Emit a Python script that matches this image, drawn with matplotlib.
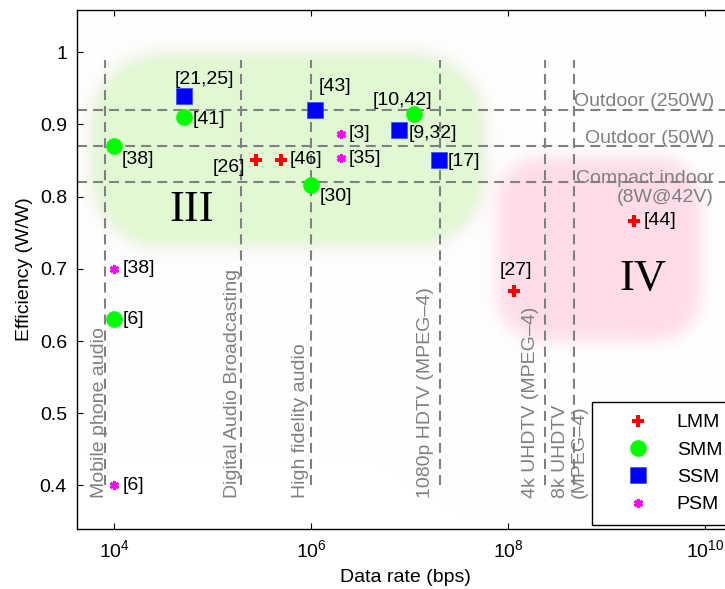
import numpy as np
import matplotlib
matplotlib.use('Agg')
import matplotlib.pyplot as plt
from matplotlib.ticker import FixedLocator, FuncFormatter, NullLocator

plt.rcParams['font.family'] = ['Liberation Sans', 'DejaVu Sans']
plt.rcParams['mathtext.default'] = 'regular'
plt.rcParams['font.size'] = 14

# ---------------- data ----------------
lmm_x = [2.73e5, 4.96e5, 1.15e8, 1.88e9]
lmm_y = [0.851, 0.851, 0.670, 0.767]
lmm_refs = ['[26]', '[46]', '[27]', '[44]']

smm_x = [5.1e4, 1.0e4, 1.0e6, 1.11e7, 1.0e4]
smm_y = [0.910, 0.870, 0.816, 0.9145, 0.630]
smm_refs = ['[41]', '[38]', '[30]', '[10,42]', '[6]']

ssm_x = [5.1e4, 1.08e6, 7.85e6, 1.96e7]
ssm_y = [0.940, 0.920, 0.892, 0.851]
ssm_refs = ['[21,25]', '[43]', '[9,32]', '[17]']

psm_x = [1.98e6, 1.98e6, 1.0e4, 1.0e4]
psm_y = [0.887, 0.853, 0.700, 0.400]
psm_refs = ['[3]', '[35]', '[38]', '[6]']

app_rates = [8.0e3, 1.92e5, 1.0e6, 2.0e7, 2.35e8, 4.64e8]
app_names = ['Mobile phone audio', 'Digital Audio Broadcasting', 'High fidelity audio',
             '1080p HDTV (MPEG\u20134)', '4k UHDTV (MPEG\u20134)', '8k UHDTV\n(MPEG\u20134)']
app_label_x = [7.9e3, 1.75e5, 8.6e5, 1.62e7, 1.85e8, 5.6e8]
app_line_y = (0.40, 0.99)
app_label_y = 0.383

power_levels = [0.92, 0.87, 0.82]
power_names = ['Outdoor (250W)', 'Outdoor (50W)', 'Compact indoor\n(8W@42V)']
power_label_y = [0.926, 0.875, 0.793]
power_label_x = 1.22e10

region_names = ['III', 'IV']
region_label_x = [6.12e4, 2.33e9]
region_label_y = [0.782, 0.686]
region_x = [(6.08e3, 5.31e7), (7.53e7, 8.59e9)]
region_y = [(0.733, 0.996), (0.6015, 0.855)]

x_ticks = [1e4, 1e6, 1e8, 1e10]
y_ticks = [0.4, 0.5, 0.6, 0.7, 0.8, 0.9, 1.0]
xlim = (10 ** 3.619, 10 ** 10.30)
ylim = (0.3397, 1.0586)

# ---------------- figure ----------------
W, H, DPI = 725, 589, 100
fig = plt.figure(figsize=(W / DPI, H / DPI), dpi=DPI)
ax = fig.add_axes([76.7 / W, 60 / H, (735 - 76.7) / W, (579 - 60) / H])
ax.set_xscale('log')
ax.set_xlim(*xlim)
ax.set_ylim(*ylim)
ax.set_autoscale_on(False)

# ---------------- soft background regions ----------------
bb = ax.get_window_extent()
nw, nh = int(round(bb.width)), int(round(bb.height))
px = bb.x0 + np.arange(nw) + 0.5
py = bb.y0 + np.arange(nh) + 0.5
PX, PY = np.meshgrid(px, py)


def rrect_sdf(x0, x1, y0, y1, r):
    cx, cy = (x0 + x1) / 2, (y0 + y1) / 2
    hx, hy = (x1 - x0) / 2 - r, (y1 - y0) / 2 - r
    qx = np.abs(PX - cx) - hx
    qy = np.abs(PY - cy) - hy
    out = np.hypot(np.maximum(qx, 0), np.maximum(qy, 0))
    ins = np.minimum(np.maximum(qx, qy), 0)
    return out + ins - r


def soft(d, s):
    return 1.0 / (1.0 + np.exp(np.clip(d / s, -50, 50)))


img = np.ones((nh, nw, 3))
styles = [dict(color=(224, 250, 210), r=70, s=4.0, shadow=True),
          dict(color=(255, 220, 232), r=45, s=5.0, shadow=False)]
for (xr, yr, st) in zip(region_x, region_y, styles):
    (x0, y0) = ax.transData.transform((xr[0], yr[0]))
    (x1, y1) = ax.transData.transform((xr[1], yr[1]))
    d = rrect_sdf(x0, x1, y0, y1, st['r'])
    if st['shadow']:
        a = 0.22 * soft(d - 3, 6.0)
        sc = np.array((215, 180, 180)) / 255.0
        img = img * (1 - a[..., None]) + sc * a[..., None]
    a = soft(d, st['s'])
    c = np.array(st['color']) / 255.0
    img = img * (1 - a[..., None]) + c * a[..., None]

ax.imshow(img, extent=(0, 1, 0, 1), transform=ax.transAxes, origin='lower',
          interpolation='nearest', aspect='auto', zorder=0)
ax.set_xlim(*xlim)
ax.set_ylim(*ylim)

# ---------------- reference lines ----------------
dash_kw = dict(color='#808080', lw=1.5, dashes=(4.8, 2.9), zorder=1)
for xr in app_rates:
    ax.plot([xr, xr], app_line_y, **dash_kw)
for yl in power_levels:
    ax.plot(xlim, [yl, yl], **dash_kw)

for xl, name in zip(app_label_x, app_names):
    ax.text(xl, app_label_y, name, rotation=90, rotation_mode='anchor',
            ha='left', va='baseline', color='#808080', fontsize=14,
            multialignment='left', linespacing=1.15, zorder=2)
for yl, name in zip(power_label_y, power_names):
    ax.text(power_label_x, yl, name, ha='right', va='baseline', color='#808080',
            fontsize=14, multialignment='right', linespacing=1.15, zorder=2)

for xl, yl, name in zip(region_label_x, region_label_y, region_names):
    ax.text(xl, yl, name, ha='center', va='center', fontsize=32,
            family=['Liberation Serif', 'DejaVu Serif'], zorder=2)

# ---------------- data markers ----------------
ax.plot(lmm_x, lmm_y, ls='none', marker='P', ms=8.5, color='#ff0000', mew=0, zorder=4, label='LMM')
ax.plot(smm_x, smm_y, ls='none', marker='o', ms=12, color='#00ff00', mew=0, zorder=4, label='SMM')
ax.plot(ssm_x, ssm_y, ls='none', marker='s', ms=11.5, color='#0000ff', mec='#3050ff',
        mew=0.5, zorder=4, label='SSM')
ax.plot(psm_x, psm_y, ls='none', marker=(6, 2, 0), ms=6.5, color='#ff00ff', mew=2.0,
        zorder=4, label='PSM')

# reference annotations: (dx, dy) pixel offsets and alignment
lmm_off = [(-11, -8, 'right'), (8, 0, 'left'), (2, 20, 'center'), (10, 0, 'left')]
smm_off = [(9, -2, 'left'), (7, -13, 'left'), (8, -11, 'left'), (18, 14, 'right'), (8, 0, 'left')]
ssm_off = [(20, 16, 'center'), (20, 24, 'center'), (9, -3, 'left'), (9, -2, 'left')]
psm_off = [(8, 0, 'left')] * 4

for xs, ys, refs, offs in [(lmm_x, lmm_y, lmm_refs, lmm_off), (smm_x, smm_y, smm_refs, smm_off),
                           (ssm_x, ssm_y, ssm_refs, ssm_off), (psm_x, psm_y, psm_refs, psm_off)]:
    for xv, yv, r, (dx, dy, ha) in zip(xs, ys, refs, offs):
        ax.annotate(r, (xv, yv), xytext=(dx, dy), textcoords='offset pixels',
                    ha=ha, va='center', fontsize=14, zorder=5)

# ---------------- axes styling ----------------
ax.xaxis.set_major_locator(FixedLocator(x_ticks))
ax.xaxis.set_minor_locator(NullLocator())
ax.xaxis.set_major_formatter(FuncFormatter(lambda v, p: r'$10^{%d}$' % round(np.log10(v))))
ax.yaxis.set_major_locator(FixedLocator(y_ticks))
ax.yaxis.set_major_formatter(FuncFormatter(lambda v, p: '%g' % v))
ax.tick_params(direction='in', length=4.3, width=0.8, top=True, right=True,
               labelsize=14, pad=7)
for sp in ax.spines.values():
    sp.set_linewidth(1.0)
ax.set_xlabel('Data rate (bps)', fontsize=14, labelpad=6)
ax.set_ylabel('Efficiency (W/W)', fontsize=14, labelpad=5)

leg = ax.legend(loc='upper left', bbox_to_anchor=(591.7 / W, (H - 401.7) / H),
                bbox_transform=fig.transFigure, borderaxespad=0, fancybox=False,
                framealpha=1, edgecolor='black', fontsize=14, handlelength=3.5,
                handletextpad=0.25, borderpad=0.62, labelspacing=0.5, numpoints=1)
leg.get_frame().set_linewidth(1.0)
leg.set_zorder(10)

fig.savefig('out.png', dpi=DPI)
